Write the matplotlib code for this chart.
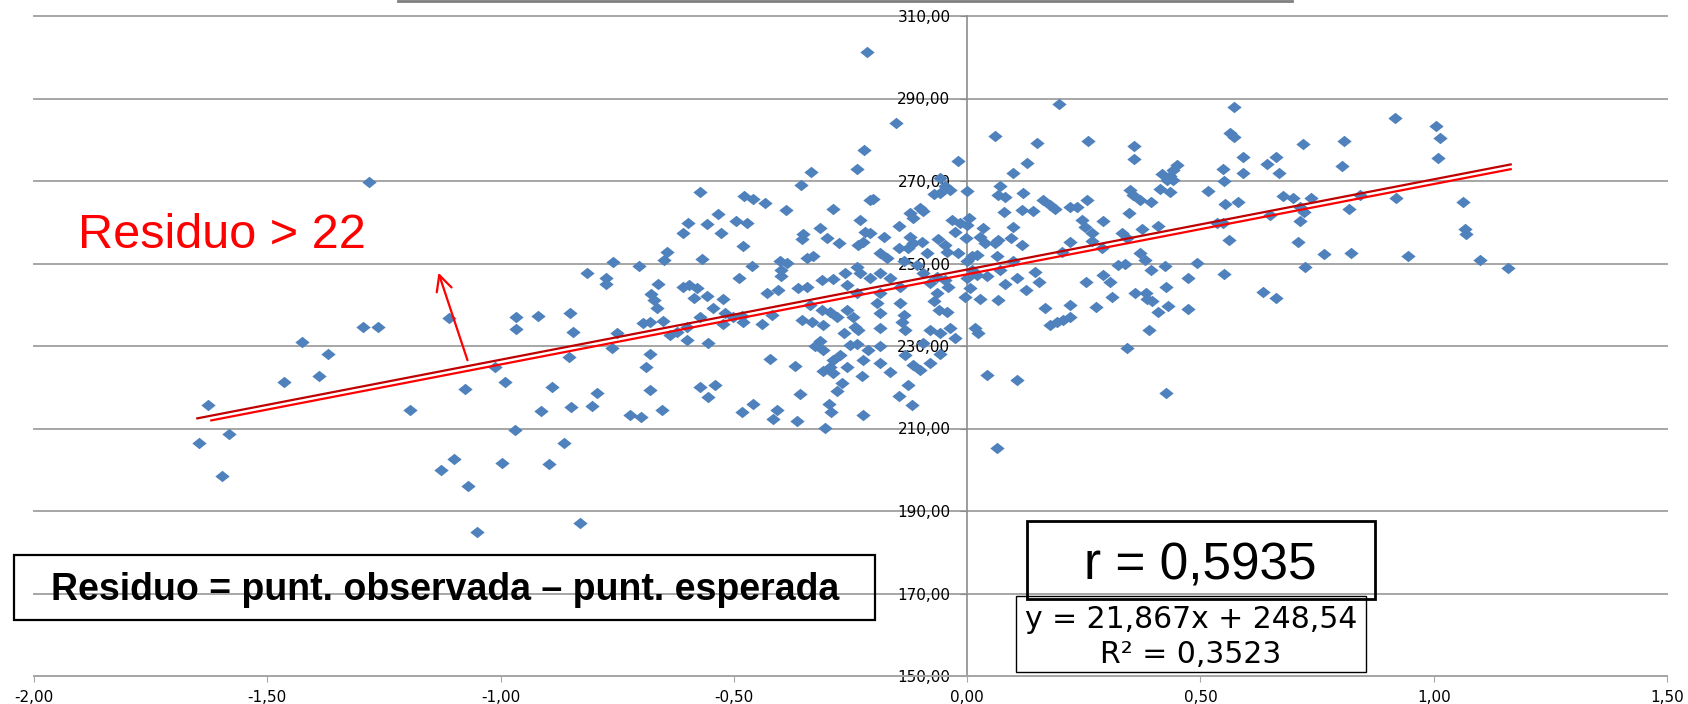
import matplotlib.pyplot as plt
import numpy as np
from matplotlib.lines import Line2D
from matplotlib.patches import Rectangle
from matplotlib.path import Path
from matplotlib.ticker import FuncFormatter, MultipleLocator

# data (x = predictor, y = puntuacion)
pts_left = [
    (-1.283, 269.7), (-1.426, 231.0), (-1.369, 228.0), (-1.465, 221.3), (-1.390, 222.7),
    (-1.294, 234.7), (-1.263, 234.7), (-1.628, 215.8), (-1.647, 206.6), (-1.582, 208.7),
    (-1.597, 198.5), (-1.194, 214.6), (-1.110, 236.9), (-1.128, 200.0), (-1.07, 196.0),
    (-1.05, 185.0), (-0.83, 187.0),
]
pts_midleft = [
    (-0.815, 247.8), (-0.76, 250.4), (-0.774, 246.4), (-0.774, 245.0), (-0.704, 249.4),
    (-0.644, 252.9), (-0.649, 250.8), (-0.599, 259.9), (-0.608, 257.5), (-0.572, 267.4),
    (-0.663, 245.0), (-0.677, 242.5), (-0.672, 241.2), (-0.665, 239.3), (-0.608, 244.4),
    (-0.597, 244.8), (-0.579, 244.0), (-0.586, 241.6), (-0.651, 236.1), (-0.694, 235.5),
    (-0.679, 235.9), (-0.636, 232.7), (-0.622, 233.5), (-0.601, 234.7), (-0.60, 231.5),
    (-0.679, 228.1), (-0.689, 225.0), (-0.679, 219.3), (-0.722, 213.3), (-0.70, 212.9),
    (-0.654, 214.5), (-0.572, 220.1), (-0.761, 229.6), (-0.751, 233.2), (-0.794, 218.7),
    (-0.804, 215.5), (-0.851, 238.1), (-0.844, 233.5), (-0.854, 227.3), (-0.849, 215.1),
    (-0.889, 220.0), (-0.913, 214.2), (-0.864, 206.4), (-0.896, 201.4), (-0.919, 237.3),
    (-0.967, 237.0), (-0.967, 234.1), (-0.99, 221.3), (-1.013, 225.0), (-0.969, 209.6),
    (-0.996, 201.7), (-1.10, 202.6), (-1.076, 219.6),
]
pts_center_left = [
    (-0.214, 301.3),
    (-0.221, 277.5), (-0.237, 272.8), (-0.335, 272.1), (-0.357, 269.0), (-0.478, 266.4),
    (-0.458, 265.6), (-0.433, 264.6), (-0.388, 263.0), (-0.287, 263.3), (-0.208, 265.4),
    (-0.201, 265.7), (-0.230, 260.6), (-0.533, 261.9), (-0.558, 259.5), (-0.528, 257.5),
    (-0.495, 260.2), (-0.471, 259.9), (-0.351, 257.1), (-0.355, 256.0), (-0.315, 258.7),
    (-0.301, 256.1), (-0.275, 254.9), (-0.233, 254.5), (-0.223, 255.3), (-0.208, 257.3),
    (-0.219, 257.7), (-0.481, 254.3), (-0.569, 251.0), (-0.462, 249.5), (-0.401, 250.7),
    (-0.387, 250.1), (-0.398, 248.4), (-0.400, 247.0), (-0.344, 251.4), (-0.331, 251.7),
    (-0.488, 246.6), (-0.558, 242.1), (-0.523, 241.4), (-0.544, 239.1), (-0.573, 237.1),
    (-0.519, 237.9), (-0.501, 237.1), (-0.483, 237.3), (-0.523, 235.3), (-0.480, 235.8),
    (-0.440, 235.3), (-0.430, 242.8), (-0.405, 243.6), (-0.419, 237.5), (-0.363, 244.0),
    (-0.344, 244.2), (-0.312, 246.0), (-0.287, 246.3), (-0.262, 247.6), (-0.237, 249.2),
    (-0.230, 247.8), (-0.208, 246.6), (-0.258, 244.8), (-0.237, 242.8), (-0.194, 240.4),
    (-0.337, 240.0), (-0.312, 238.7), (-0.294, 238.3), (-0.280, 237.0), (-0.258, 238.7),
    (-0.244, 237.1), (-0.355, 236.3), (-0.333, 235.9), (-0.308, 235.1), (-0.240, 234.7),
    (-0.233, 233.9), (-0.265, 233.1), (-0.555, 230.7), (-0.315, 231.3), (-0.326, 230.0),
    (-0.308, 229.0), (-0.251, 230.3), (-0.237, 230.5), (-0.212, 229.0), (-0.423, 226.9),
    (-0.369, 225.2), (-0.287, 226.6), (-0.273, 227.8), (-0.294, 225.0), (-0.258, 225.0),
    (-0.223, 226.6), (-0.308, 224.0), (-0.287, 223.4), (-0.226, 222.7), (-0.269, 221.1),
    (-0.540, 220.6), (-0.555, 217.7), (-0.358, 218.3), (-0.280, 219.0), (-0.458, 216.0),
    (-0.483, 214.1), (-0.408, 214.5), (-0.417, 212.3), (-0.364, 211.8), (-0.296, 215.9),
    (-0.291, 214.1), (-0.224, 213.3), (-0.305, 210.1),
]
pts_center = [
    (-0.152, 284.0), (0.197, 288.6), (0.060, 280.8), (0.150, 279.1), (-0.019, 274.9),
    (0.099, 271.9), (0.128, 274.3), (-0.058, 270.7), (-0.047, 268.8), (-0.037, 267.8),
    (-0.058, 267.0), (-0.072, 266.9), (0.0, 267.6), (0.070, 268.8), (0.067, 266.6),
    (0.081, 266.2), (0.120, 267.2), (0.078, 262.6), (0.117, 263.0), (0.142, 262.7),
    (0.163, 265.4), (0.178, 264.2), (0.188, 263.1), (-0.101, 263.4), (-0.115, 261.0),
    (-0.094, 262.7), (-0.122, 262.3), (-0.147, 259.1), (-0.179, 256.4), (-0.187, 252.5),
    (-0.172, 251.3), (-0.122, 256.5), (-0.115, 254.9), (-0.097, 255.3), (-0.126, 253.7),
    (-0.147, 253.7), (-0.136, 250.5), (-0.087, 252.5), (-0.062, 255.9), (-0.047, 254.5),
    (-0.044, 252.9), (-0.033, 260.6), (-0.026, 257.7), (-0.015, 259.8), (0.003, 261.0),
    (0.0, 259.4), (-0.002, 256.1), (-0.019, 252.5), (0.0, 250.5), (0.010, 251.7),
    (0.021, 252.1), (0.035, 258.5), (0.028, 256.5), (0.038, 254.9), (0.060, 254.9),
    (0.067, 255.7), (0.095, 256.3), (0.099, 258.9), (0.117, 254.5), (0.063, 251.7),
    (0.099, 250.5), (0.070, 248.4), (0.042, 247.0), (0.010, 248.4), (0.021, 247.2),
    (-0.001, 246.4), (0.106, 246.4), (0.081, 245.0), (0.127, 243.6), (0.145, 248.0),
    (0.153, 245.6), (0.203, 252.9), (-0.187, 247.6), (-0.165, 246.4), (-0.144, 244.4),
    (-0.187, 242.8), (-0.108, 249.7), (-0.094, 247.6), (-0.079, 245.2), (-0.065, 246.8),
    (-0.047, 246.0), (-0.040, 244.4), (-0.065, 242.8), (-0.072, 240.8), (-0.061, 238.7),
    (-0.044, 238.3), (-0.004, 241.8), (0.006, 244.0), (0.028, 241.3), (0.067, 241.2),
    (0.167, 239.2), (0.178, 235.1), (0.192, 235.9), (0.206, 236.3), (-0.144, 240.4),
    (-0.136, 237.5), (-0.140, 235.9), (-0.187, 237.9), (-0.187, 234.3), (-0.187, 229.9),
    (-0.187, 225.8), (-0.133, 233.9), (-0.079, 233.9), (-0.058, 233.1), (-0.037, 234.3),
    (-0.026, 231.9), (-0.094, 230.7), (-0.115, 225.4), (-0.101, 224.2), (-0.133, 227.8),
    (-0.079, 225.8), (-0.058, 228.1), (0.017, 234.3), (0.024, 233.1), (-0.165, 223.8),
    (-0.126, 220.6), (-0.145, 217.9), (-0.119, 215.7), (0.042, 223.0), (0.106, 221.8),
    (0.063, 205.2),
]
pts_center_right = [
    (0.571, 288.0), (0.563, 281.7), (0.571, 280.6), (0.258, 279.7), (0.358, 278.6),
    (0.358, 275.3), (0.592, 275.9), (0.642, 274.1), (0.661, 275.9), (0.669, 272.0),
    (0.592, 272.0), (0.549, 272.8), (0.551, 270.0), (0.417, 271.7), (0.435, 271.1),
    (0.442, 270.3), (0.449, 273.9), (0.442, 272.7), (0.428, 270.3), (0.435, 267.4),
    (0.413, 268.0), (0.517, 267.6), (0.349, 267.8), (0.356, 266.6), (0.371, 265.4),
    (0.394, 264.8), (0.256, 265.4), (0.221, 263.8), (0.235, 263.6), (0.553, 264.4),
    (0.581, 264.8), (0.678, 266.4), (0.346, 262.2), (0.246, 260.6), (0.253, 258.9),
    (0.267, 257.5), (0.291, 260.4), (0.331, 257.3), (0.342, 256.1), (0.374, 258.3),
    (0.410, 259.1), (0.535, 259.8), (0.549, 259.8), (0.649, 261.8), (0.562, 255.7),
    (0.221, 255.1), (0.267, 255.5), (0.289, 253.7), (0.371, 252.6), (0.381, 250.9),
    (0.324, 249.7), (0.338, 249.9), (0.395, 248.4), (0.424, 249.4), (0.492, 250.1),
    (0.551, 247.5), (0.255, 245.6), (0.292, 247.2), (0.306, 245.6), (0.474, 246.6),
    (0.426, 244.2), (0.310, 241.8), (0.360, 242.8), (0.384, 242.8), (0.385, 241.3),
    (0.396, 240.8), (0.221, 240.0), (0.221, 237.1), (0.276, 239.4), (0.410, 238.3),
    (0.431, 239.7), (0.474, 239.0), (0.635, 243.0), (0.663, 241.6), (0.390, 233.9),
    (0.343, 229.6), (0.427, 218.7),
]
pts_right = [
    (0.917, 285.2), (1.005, 283.3), (1.013, 280.4), (1.010, 275.5), (0.719, 278.9),
    (0.808, 279.7), (0.803, 273.7), (0.699, 265.8), (0.738, 265.8), (0.713, 263.8),
    (0.721, 262.6), (0.842, 266.6), (0.819, 263.2), (0.919, 266.0), (0.713, 260.2),
    (1.062, 264.8), (0.710, 255.2), (1.067, 258.3), (1.070, 257.1), (0.765, 252.3),
    (0.823, 252.6), (0.945, 251.9), (0.724, 249.1), (1.100, 250.9), (1.160, 248.8),
]

slope, intercept = 21.867, 248.54
r_value = "0,5935"
r2_value = "0,3523"
y_ticks = [150, 170, 190, 210, 230, 250, 270, 290, 310]

pts = np.array(pts_left + pts_midleft + pts_center_left + pts_center + pts_center_right + pts_right)
xs, ys = pts[:, 0], pts[:, 1]

W, H = 1688, 704
fig = plt.figure(figsize=(W / 100, H / 100), dpi=100)
ax = fig.add_axes([34 / W, 1 - 676 / H, (1667 - 34) / W, (676 - 16) / H])

grey = "#a6a6a6"
ax.set_xlim(-2, 1.5)
ax.set_ylim(150, 310)
ax.xaxis.set_major_locator(MultipleLocator(0.5))
ax.set_yticks(y_ticks)
fmt = FuncFormatter(lambda v, p: f"{v:.2f}".replace(".", ","))
ax.xaxis.set_major_formatter(fmt)
ax.yaxis.set_major_formatter(fmt)
ax.yaxis.grid(True, color=grey, lw=1.4, clip_on=False)
ax.set_axisbelow(True)
for s in ["top", "right"]:
    ax.spines[s].set_visible(False)
ax.spines["left"].set_position(("data", 0))
ax.spines["left"].set_color("#8c8c8c")
ax.spines["bottom"].set_color(grey)
ax.spines["left"].set_linewidth(1.2)
ax.spines["bottom"].set_linewidth(1.4)
ax.tick_params(axis="y", direction="out", length=5, color="#8c8c8c", pad=7, labelsize=11)
ax.tick_params(axis="x", direction="out", length=4, color=grey, pad=6, labelsize=11)

# flattened diamond like Excel's marker
diamond = Path([(-1, 0), (0, 0.8), (1, 0), (0, -0.8), (-1, 0)],
               [Path.MOVETO, Path.LINETO, Path.LINETO, Path.LINETO, Path.CLOSEPOLY])
ax.scatter(xs, ys, marker=diamond, s=10.3 ** 2, color="#4f81bd", linewidths=0, zorder=3)

# regression line + hand drawn copy just below it
lx = np.array([-1.65, 1.165])
ax.plot(lx, slope * lx + intercept, color="#c00000", lw=1.6, zorder=4)
lx2 = np.array([-1.62, 1.165])
ax.plot(lx2, slope * lx2 + intercept - 1.15, color="#ff0000", lw=1.6, zorder=4)

ax.annotate("", xy=(-1.135, 248.4), xytext=(-1.069, 225.9),
            arrowprops=dict(arrowstyle="->", color="red", lw=1.6, mutation_scale=28))
ax.text(-1.905, 253.7, "Residuo > 22", color="red", fontsize=35,
        family="Liberation Sans", va="baseline", ha="left")


def box(x0, y0, x1, y1, lw):
    fig.add_artist(Rectangle((x0 / W, 1 - y1 / H), (x1 - x0) / W, (y1 - y0) / H,
                             transform=fig.transFigure, fill=False, ec="black", lw=lw))


box(14, 555, 875, 620, 1.6)
fig.text(445 / W, 1 - 600 / H, "Residuo = punt. observada \u2013 punt. esperada",
         ha="center", va="baseline", fontsize=27, fontweight="bold", family="Liberation Sans")

box(1027, 521, 1375, 599, 2)
fig.text(1200 / W, 1 - 580 / H, f"r = {r_value}", ha="center", va="baseline",
         fontsize=37, family="Liberation Sans")

box(1016, 596, 1366, 672, 1)
fig.text(1191 / W, 1 - 628 / H, f"y = {slope:.3f}x + {intercept:.2f}".replace(".", ","),
         ha="center", va="baseline", fontsize=21.5, family="DejaVu Sans")
fig.text(1191 / W, 1 - 663 / H, f"R\u00b2 = {r2_value}", ha="center", va="baseline",
         fontsize=21.5, family="DejaVu Sans")

# bottom edge of the cut off title box
fig.add_artist(Line2D([398 / W, 1292 / W], [1 - 1 / H, 1 - 1 / H], transform=fig.transFigure,
                      color="#7f7f7f", lw=2))

fig.savefig("out.png", dpi=100)
